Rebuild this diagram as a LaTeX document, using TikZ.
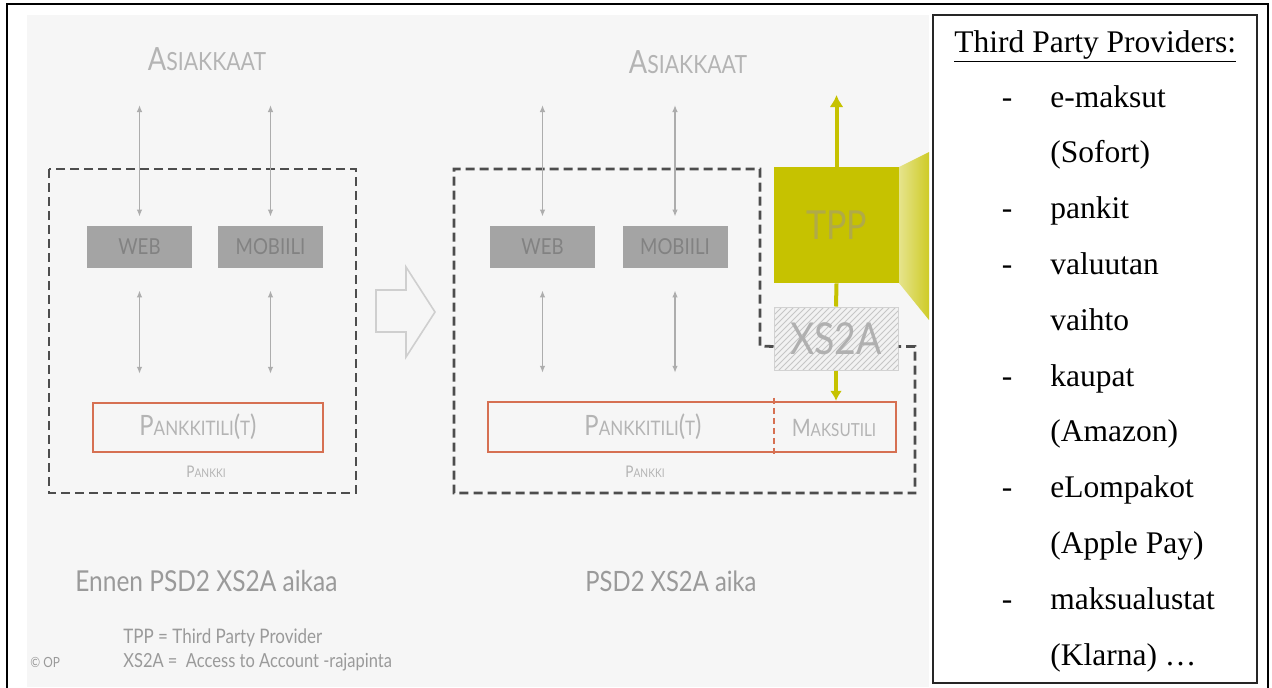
\documentclass[tikz,border=0pt]{standalone}
\usepackage{fontspec}
\usetikzlibrary{arrows.meta,patterns}
\newfontfamily\opf[FakeStretch=0.85]{Lato}
\newfontfamily\tnr{Liberation Serif}
\definecolor{bgc}{HTML}{F6F6F6}
\definecolor{boxc}{HTML}{A4A4A4}
\definecolor{boxtxt}{HTML}{828282}
\definecolor{lite}{HTML}{B4B4B4}
\definecolor{arrc}{HTML}{ADADAD}
\definecolor{dashc}{HTML}{4D4D4D}
\definecolor{acc}{RGB}{214,112,82}
\definecolor{olv}{RGB}{198,194,0}
\definecolor{tpptxt}{RGB}{176,170,72}
\definecolor{captc}{HTML}{9A9A9A}
% large initial capital followed by smaller capitals
\newcommand\capsmall[4]{{\fontsize{#1pt}{#1pt}\selectfont #3}{\fontsize{#2pt}{#2pt}\selectfont #4}}
\tikzset{
  gbox/.style={fill=boxc, minimum width=52.5pt, minimum height=21pt, inner sep=0pt,
    font=\opf\fontsize{11}{11}\selectfont, text=boxtxt},
  garrow/.style={draw=arrc, line width=0.75pt,
    {Latex[length=3.5pt,width=2.8pt]}-{Latex[length=3.5pt,width=2.8pt]}},
  dbox/.style={draw=dashc, line width=1.4pt, dash pattern=on 4.5pt off 2.5pt},
  acct/.style={draw=acc, line width=1.2pt, inner sep=0pt},
  litetxt/.style={text=lite, inner sep=0pt, font=\opf},
  oline/.style={draw=olv, line width=2pt},
  capt/.style={text=captc, inner sep=0pt, anchor=west, font=\opf},
  listtxt/.style={inner sep=0pt, anchor=base west, font=\tnr\fontsize{15.75}{18}\selectfont},
  dashmark/.style={inner sep=0pt, anchor=base, font=\tnr\fontsize{15.75}{18}\selectfont}
}
\begin{document}
\begin{tikzpicture}[x=0.5pt,y=-0.5pt]
\useasboundingbox (0,0) rectangle (1272,687);
\fill[white] (0,0) rectangle (1272,687);
\fill[bgc] (27,15) rectangle (929,687);
\draw[line width=1pt] (7,690) -- (7,4) -- (1268,4) -- (1268,690);

% ---------- before PSD2 ----------
\node[litetxt] (custL) at (207,59) {\capsmall{16}{12.5}{A}{SIAKKAAT}};
\node[gbox] (webL) at (139.5,247) {WEB};
\node[gbox] (mobL) at (270.5,247) {MOBIILI};
\node[acct, minimum width=115pt, minimum height=24.5pt] (acctL) at (208,427.5) {};
\node[litetxt] (accL) at (198,427) {\capsmall{14}{10}{P}{ANKKITILI}\capsmall{14}{10}{(}{T}{\fontsize{14pt}{14pt}\selectfont )}};
\node[litetxt] (bankL) at (206,472) {\capsmall{8}{6}{P}{ANKKI}};
\draw[dbox] (49,169) rectangle (356,493);

\coordinate (tWebL) at (webL.north |- 0,105);
\coordinate (tMobL) at (mobL.north |- 0,105);
\draw[garrow] (tWebL) -- ([yshift=4.5pt]webL.north);
\draw[garrow] (tMobL) -- ([yshift=4.5pt]mobL.north);
\draw[garrow] ([yshift=-11pt]webL.south) -- ([yshift=14pt]webL.south |- acctL.north);
\draw[garrow] ([yshift=-11pt]mobL.south) -- ([yshift=14pt]mobL.south |- acctL.north);

% transition arrow
\draw[draw=gray!38, line width=0.8pt, fill=bgc]
  (376,290) -- (406,290) -- (406,267) -- (435,312) -- (406,357) -- (406,332) -- (376,332) -- cycle;

% ---------- with PSD2 ----------
\node[litetxt] (custR) at (688,62) {\capsmall{16}{12.5}{A}{SIAKKAAT}};
\node[gbox] (webR) at (542.5,247) {WEB};
\node[gbox] (mobR) at (675,247) {MOBIILI};

% side wedge of the provider block
\shade[left color=olv!45!white, right color=olv!85!white]
  (899,167) -- (929,152) -- (929,320) -- (899,283) -- cycle;
\node[fill=olv, minimum width=62.5pt, minimum height=58pt, inner sep=0pt,
  text=tpptxt, font=\opf\fontsize{20}{20}\selectfont] (tpp) at (836.5,225) {TPP};
\node[draw=gray!35, line width=0.5pt, minimum width=62pt, minimum height=31.5pt, inner sep=0pt,
  preaction={fill=gray!10}, pattern=north east lines, pattern color=gray!45,
  text=gray!62, font=\opf\fontsize{22}{22}\selectfont] (xs) at (836,338.5) {XS2A};

\node[acct, minimum width=204pt, minimum height=25pt] (acctR) at (692,427) {};
\node[litetxt] (accR) at (643,427) {\capsmall{14}{10}{P}{ANKKITILI}\capsmall{14}{10}{(}{T}{\fontsize{14pt}{14pt}\selectfont )}};
\node[litetxt] (payR) at (834,428) {\capsmall{12}{9}{M}{AKSUTILI}};
\node[litetxt] (bankR) at (645,472) {\capsmall{8}{6}{P}{ANKKI}};
\draw[draw=acc, line width=1pt, dash pattern=on 3pt off 2pt]
  ([yshift=1.5pt]xs.west |- acctR.north) -- ([yshift=-2pt]xs.west |- acctR.south);

\draw[dbox] ([yshift=-4pt]xs.west) -- (760,346) |- (454,169) -- (454,493) -- (915,493) |- ([yshift=-4pt]xs.east);

\coordinate (tWebR) at (webR.north |- 0,105);
\coordinate (tMobR) at (mobR.north |- 0,105);
\coordinate (tTpp) at (tpp.north |- 0,95);
\draw[garrow] (tWebR) -- ([yshift=4.5pt]webR.north);
\draw[garrow] (tMobR) -- ([yshift=4.5pt]mobR.north);
\draw[garrow] ([yshift=-11pt]webR.south) -- ([yshift=14pt]webR.south |- acctR.north);
\draw[garrow] ([yshift=-11pt]mobR.south) -- ([yshift=14pt]mobR.south |- acctR.north);

\draw[oline, -{Latex[length=6pt,width=7pt]}] (tpp.north) -- (tTpp);
\draw[oline] (tpp.south) -- (xs.north);
\draw[oline, -{Latex[length=5pt,width=6pt]}] (xs.south) -- (xs.south |- acctR.north);

% captions
\node[capt, font=\opf\fontsize{14.4}{14.4}\selectfont] (capL) at (75,581) {Ennen PSD2 XS2A aikaa};
\node[capt, font=\opf\fontsize{14}{14}\selectfont] (capR) at (585,581) {PSD2 XS2A aika};
\node[capt, font=\opf\fontsize{10}{10}\selectfont] (note1) at (123,638) {TPP = Third Party Provider};
\node[capt, font=\opf\fontsize{9.7}{9.7}\selectfont] (note2) at (123,662) {XS2A =\ \ Access to Account -rajapinta};
\node[capt, font=\opf\fontsize{7}{7}\selectfont] (copy) at (30,662) {© OP};

% ---------- provider list ----------
\draw[line width=0.8pt, draw=black!85] (933,15) rectangle (1257,683);
\node[listtxt] (title) at (954,52) {\underline{Third Party Providers:}};
\node[dashmark] (d1) at (1007,107) {-};
\node[listtxt] (i1) at (1050,107) {e-maksut};
\node[listtxt] (i1b) at (1050,162.8) {(Sofort)};
\node[dashmark] (d2) at (1007,218.6) {-};
\node[listtxt] (i2) at (1050,218.6) {pankit};
\node[dashmark] (d3) at (1007,274.4) {-};
\node[listtxt] (i3) at (1050,274.4) {valuutan};
\node[listtxt] (i3b) at (1050,330.2) {vaihto};
\node[dashmark] (d4) at (1007,386) {-};
\node[listtxt] (i4) at (1050,386) {kaupat};
\node[listtxt] (i4b) at (1050,441.8) {(Amazon)};
\node[dashmark] (d5) at (1007,497.6) {-};
\node[listtxt] (i5) at (1050,497.6) {eLompakot};
\node[listtxt] (i5b) at (1050,553.4) {(Apple Pay)};
\node[dashmark] (d6) at (1007,609.2) {-};
\node[listtxt] (i6) at (1050,609.2) {maksualustat};
\node[listtxt] (i6b) at (1050,665) {(Klarna) \dots};
\end{tikzpicture}
\end{document}
